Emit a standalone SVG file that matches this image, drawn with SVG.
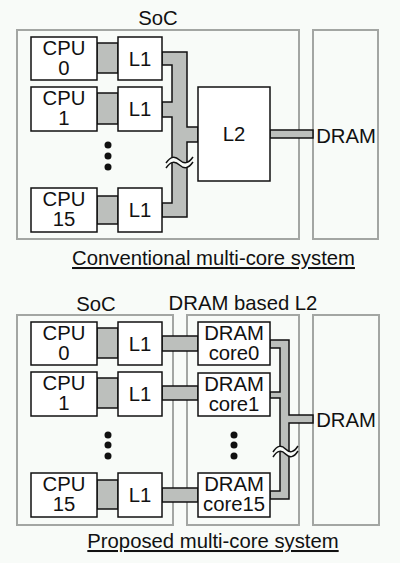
<svg xmlns="http://www.w3.org/2000/svg" width="400" height="563" viewBox="0 0 400 563">
<style>
text{font-family:"Liberation Sans",Arial,sans-serif;font-size:20.3px;fill:#111;text-anchor:middle}
.frame{fill:none;stroke:#a3a6a3;stroke-width:2}
.box{fill:#fff;stroke:#111;stroke-width:1.5}
.bus{fill:#bcbfbc;stroke:#111;stroke-width:1.5;stroke-linejoin:miter}
.dot{fill:#111}
.gap{fill:#f8fbf8;stroke:none}
.tilde{fill:none;stroke:#111;stroke-width:1.5}
.ul{text-decoration:underline}
</style>
<rect width="400" height="563" fill="#f8fbf8"/>

<!-- Conventional system -->
<g id="soc-top">
<rect class="frame" x="17" y="30" width="282" height="209"/>
<text x="158" y="25">SoC</text>
</g>
<g id="dram-top">
<rect class="frame" x="313" y="30" width="65" height="209"/>
<text x="346" y="143">DRAM</text>
</g>

<g id="connectors-top">
<rect class="bus" x="97" y="43" width="21" height="30"/>
<rect class="bus" x="97" y="93" width="21" height="31"/>
<rect class="bus" x="97" y="196" width="21" height="28"/>
<path class="bus" d="M162,52 H187 V127 H198 V142 H187 V217 H162 V203 H172 V117 H162 V102 H172 V65 H162 Z"/>
<rect class="bus" x="270" y="130" width="43" height="8"/>
<path class="gap" d="M166,163 C171,156 175,156 179.5,160 C184,164 188,164 193,157 L193,162 C188,169 184,169 179.5,165 C175,161 171,161 166,168 Z"/>
<path class="tilde" d="M166,163 C171,156 175,156 179.5,160 C184,164 188,164 193,157"/>
<path class="tilde" d="M166,168 C171,161 175,161 179.5,165 C184,169 188,169 193,162"/>
</g>

<g id="cpu0-top"><rect class="box" x="31" y="37" width="66" height="43"/><text x="64" y="55">CPU</text><text x="64" y="75">0</text></g>
<g id="cpu1-top"><rect class="box" x="31" y="87" width="66" height="44"/><text x="64" y="105">CPU</text><text x="64" y="125">1</text></g>
<g id="cpu15-top"><rect class="box" x="31" y="188" width="66" height="44"/><text x="64" y="206">CPU</text><text x="64" y="226">15</text></g>
<g id="l1-0-top"><rect class="box" x="118" y="37" width="44" height="43"/><text x="140" y="66">L1</text></g>
<g id="l1-1-top"><rect class="box" x="118" y="87" width="44" height="44"/><text x="140" y="116">L1</text></g>
<g id="l1-15-top"><rect class="box" x="118" y="188" width="44" height="44"/><text x="140" y="217">L1</text></g>
<g id="dots-top"><circle class="dot" cx="108" cy="145" r="3.5"/><circle class="dot" cx="108" cy="156" r="3.5"/><circle class="dot" cx="108" cy="167" r="3.5"/></g>
<g id="l2-top"><rect class="box" x="198" y="87" width="72" height="94"/><text x="234" y="141">L2</text></g>

<text class="ul" x="213.5" y="265">Conventional multi-core system</text>

<!-- Proposed system -->
<g id="soc-bottom">
<rect class="frame" x="17" y="315" width="156" height="210"/>
<text x="96" y="311">SoC</text>
</g>
<g id="dram-l2-bottom">
<rect class="frame" x="187" y="315" width="112" height="210"/>
<text x="243" y="310">DRAM based L2</text>
</g>
<g id="dram-bottom">
<rect class="frame" x="313" y="315" width="66" height="210"/>
<text x="346" y="427">DRAM</text>
</g>

<g id="connectors-bottom">
<rect class="bus" x="97" y="328" width="21" height="30"/>
<rect class="bus" x="97" y="378" width="21" height="30"/>
<rect class="bus" x="97" y="480" width="21" height="29"/>
<rect class="bus" x="162" y="336" width="36" height="15"/>
<rect class="bus" x="162" y="386" width="36" height="14"/>
<rect class="bus" x="162" y="488" width="36" height="14"/>
<path class="bus" d="M270,340 H289 V415 H313 V423 H289 V499 H270 V491 H280 V398 H270 V392 H280 V348 H270 Z"/>
<path class="gap" d="M273,452 C277.5,445 281.5,445 285.5,449 C289.5,453 293.5,453 298,446 L298,451 C293.5,458 289.5,458 285.5,454 C281.5,450 277.5,450 273,457 Z"/>
<path class="tilde" d="M273,452 C277.5,445 281.5,445 285.5,449 C289.5,453 293.5,453 298,446"/>
<path class="tilde" d="M273,457 C277.5,450 281.5,450 285.5,454 C289.5,458 293.5,458 298,451"/>
</g>

<g id="cpu0-bottom"><rect class="box" x="31" y="322" width="66" height="43"/><text x="64" y="340">CPU</text><text x="64" y="360">0</text></g>
<g id="cpu1-bottom"><rect class="box" x="31" y="372" width="66" height="44"/><text x="64" y="390">CPU</text><text x="64" y="410">1</text></g>
<g id="cpu15-bottom"><rect class="box" x="31" y="473" width="66" height="44"/><text x="64" y="491">CPU</text><text x="64" y="511">15</text></g>
<g id="l1-0-bottom"><rect class="box" x="118" y="322" width="44" height="43"/><text x="140" y="351">L1</text></g>
<g id="l1-1-bottom"><rect class="box" x="118" y="372" width="44" height="44"/><text x="140" y="401">L1</text></g>
<g id="l1-15-bottom"><rect class="box" x="118" y="473" width="44" height="44"/><text x="140" y="502">L1</text></g>
<g id="core0"><rect class="box" x="198" y="322" width="72" height="43"/><text x="234" y="340">DRAM</text><text x="234" y="360">core0</text></g>
<g id="core1"><rect class="box" x="198" y="373" width="72" height="43"/><text x="234" y="391">DRAM</text><text x="234" y="411">core1</text></g>
<g id="core15"><rect class="box" x="198" y="473" width="72" height="44"/><text x="234" y="491">DRAM</text><text x="234" y="511">core15</text></g>
<g id="dots-bottom">
<circle class="dot" cx="108" cy="435" r="3.5"/><circle class="dot" cx="108" cy="445" r="3.5"/><circle class="dot" cx="108" cy="456" r="3.5"/>
<circle class="dot" cx="234" cy="435" r="3.5"/><circle class="dot" cx="234" cy="445" r="3.5"/><circle class="dot" cx="234" cy="456" r="3.5"/>
</g>

<text class="ul" x="213" y="548">Proposed multi-core system</text>
</svg>
